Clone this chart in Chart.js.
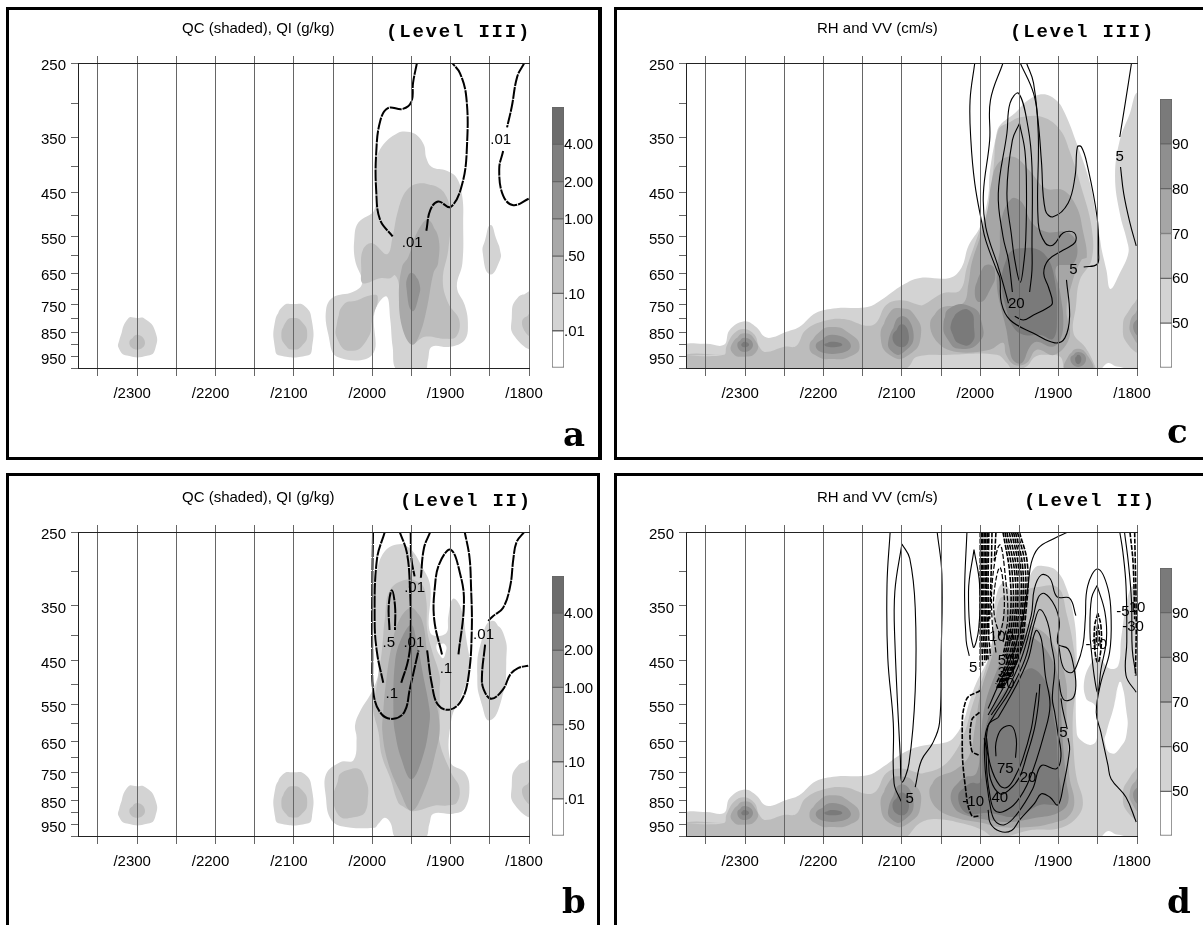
<!DOCTYPE html>
<html>
<head>
<meta charset="utf-8">
<title>QC QI RH VV</title>
<script src="https://cdn.jsdelivr.net/npm/chart.js@4/dist/chart.umd.js"></script>
<style>
html, body { margin: 0; padding: 0; background: #fff; width: 1203px; height: 925px; overflow: hidden; }
canvas { position: absolute; }
.frame { position: absolute; box-sizing: border-box; border: 0 solid #000; }
</style>
</head>
<body>
<div class="frame" style="left:6px;top:7px;width:596px;height:453px;border-width:3px 4px 3px 3px"></div>
<div class="frame" style="left:614px;top:7px;width:589px;height:453px;border-width:3px 0 3px 3px"></div>
<div class="frame" style="left:6px;top:473px;width:594px;height:452px;border-width:3px 3px 0 3px"></div>
<div class="frame" style="left:614px;top:473px;width:589px;height:452px;border-width:3px 0 0 3px"></div>
<script>
// axes: x is hours (reversed), y is pressure in hPa
const hourTicks = [18, 18.5, 19, 19.5, 20, 20.5, 21, 21.5, 22, 22.5, 23, 23.5];
const pressureTicks = [250, 300, 350, 400, 450, 500, 550, 600, 650, 700, 750, 800, 850, 900, 950, 1000];
const pressureLabels = [250, 350, 450, 550, 650, 750, 850, 950];
const qBarLabels = ['.01', '.10', '.50', '1.00', '2.00', '4.00'];
const rhBarLabels = ['50', '60', '70', '80', '90'];
const qColors = ['#ffffff', '#d3d3d3', '#bdbdbd', '#a9a9a9', '#929292', '#7f7f7f', '#6c6c6c'];
const rhColors = ['#ffffff', '#d3d3d3', '#bcbcbc', '#a6a6a6', '#8f8f8f', '#7a7a7a'];

// shaded blobs used by the QC panels
const q2300a = [[23.23,884],[23.12,800],[23.0,797],[22.9,800],[22.77,846],[22.77,917],[22.86,945],[23.13,945],[23.23,917]];
const q2300b = [[23.1,892],[23.0,860],[22.9,892],[23.0,920]];
const q2100a = [[21.24,808],[21.14,755],[21.01,748],[20.86,755],[20.77,808],[20.77,917],[20.83,945],[21.18,945],[21.24,917]];
const q2100b = [[21.16,858],[21.1,810],[21.01,797],[20.9,810],[20.83,858],[20.9,905],[21.01,920],[21.1,905]];
const q1800a = [[17.95,711],[18.15,728],[18.22,797],[18.18,868],[17.95,908]];
const q1800b = [[17.95,775],[18.09,815],[17.95,868]];

// panel a, QC level III
const aMain1 = [[19.52,342],[19.43,347],[19.34,363],[19.31,385],[19.24,401],[19.05,408],[18.92,422],[18.85,460],[18.84,517],[18.85,621],[18.92,692],[18.82,751],[18.78,815],[18.82,880],[19.01,908],[19.24,908],[19.29,965],[19.33,1010],[19.68,1010],[19.74,908],[19.77,804],[19.82,722],[19.97,775],[20.0,942],[20.45,950],[20.56,860],[20.59,768],[20.5,725],[20.25,708],[20.13,680],[20.22,612],[20.23,559],[20.18,517],[19.97,486],[19.95,394],[19.88,366],[19.68,344]];
const aSmall1 = [[18.49,522],[18.41,560],[18.37,585],[18.37,612],[18.5,653],[18.59,593],[18.56,559]];
const aMain2 = [[19.39,432],[19.16,440],[19.05,460],[19.0,499],[19.03,585],[19.1,670],[19.03,745],[18.89,804],[18.93,868],[19.07,876],[19.33,868],[19.49,896],[19.58,860],[19.65,768],[19.66,685],[19.71,656],[19.77,665],[19.9,665],[20.12,680],[20.14,641],[20.12,585],[20.0,567],[19.81,596],[19.74,550],[19.67,488],[19.56,446]];
const aLeft2 = [[20.45,815],[20.37,751],[20.19,735],[20.0,718],[19.93,725],[19.99,790],[20.07,880],[20.28,925],[20.44,880]];
const aCore3 = [[19.29,510],[19.16,550],[19.16,621],[19.22,650],[19.3,758],[19.39,854],[19.49,900],[19.61,840],[19.66,725],[19.62,632],[19.54,604],[19.43,541]];
const aCore4 = [[19.48,650],[19.4,680],[19.41,725],[19.49,772],[19.56,702],[19.54,656]];
const aLine1 = [[19.43,250],[19.48,274],[19.5,298],[19.61,308],[19.8,307],[19.9,326],[19.95,377],[19.95,446],[19.9,510],[19.74,550]];
const aLine2 = [[19.31,536],[19.26,488],[19.16,469],[19.0,481],[18.85,432],[18.79,360],[18.8,292],[18.88,262],[18.98,250]];
const aLine3 = [[18.06,250],[18.15,266],[18.22,305],[18.28,335]];
const aLine4 = [[18.33,373],[18.38,405],[18.33,457],[18.2,477],[18.0,463]];
const aLabels = [[18.36,354,'.01'],[19.49,567,'.01']];

// panel b, QC level II
const bMain1 = [[19.63,264],[19.5,271],[19.37,292],[19.26,320],[19.26,396],[19.06,397],[19.03,367],[18.97,339],[18.87,353],[18.8,407],[18.76,468],[18.86,527],[18.99,587],[19.0,714],[18.82,748],[18.76,800],[18.82,882],[18.97,903],[19.22,903],[19.27,945],[19.33,1010],[19.69,1010],[19.77,940],[19.84,920],[19.92,945],[19.97,963],[20.41,955],[20.54,920],[20.59,842],[20.59,755],[20.41,714],[20.24,708],[20.2,641],[20.22,604],[20.16,568],[19.99,512],[19.92,468],[19.97,372],[19.95,306],[19.84,273]];
const bBlob1 = [[18.48,375],[18.33,396],[18.29,453],[18.35,536],[18.5,590],[18.6,550],[18.66,481],[18.6,407]];
const bHole = [[19.18,418],[19.07,418],[19.07,437],[19.11,444]];
const bMain2 = [[19.54,310],[19.37,317],[19.31,342],[19.3,390],[19.24,428],[19.14,481],[19.14,516],[19.14,596],[19.14,653],[18.99,751],[18.89,800],[18.92,858],[19.05,870],[19.2,870],[19.39,888],[19.5,892],[19.6,875],[19.67,858],[19.77,768],[19.88,692],[19.92,624],[19.99,561],[19.97,536],[19.88,433],[19.84,372],[19.77,325]];
const bLeft2 = [[20.05,814],[20.09,896],[20.24,918],[20.41,916],[20.5,844],[20.44,779],[20.41,753],[20.29,738],[20.16,738],[20.09,772]];
const bCore3 = [[19.5,353],[19.37,372],[19.3,433],[19.24,500],[19.14,604],[19.2,692],[19.33,806],[19.5,892],[19.65,814],[19.8,714],[19.87,624],[19.86,568],[19.82,489],[19.75,418],[19.65,372]];
const bCore4 = [[19.5,382],[19.43,414],[19.35,481],[19.27,561],[19.27,596],[19.35,692],[19.5,772],[19.63,703],[19.71,624],[19.73,574],[19.71,453],[19.63,407]];
const bLine1 = [[19.84,250],[19.94,283],[19.97,372],[19.94,433],[19.86,497]];
const bLine2 = [[19.63,497],[19.54,447],[19.51,401],[19.52,320],[19.56,274],[19.65,250]];
const bLine3 = [[19.99,250],[20.0,320],[20.0,433],[19.98,527],[19.88,574],[19.73,586],[19.59,568],[19.52,511],[19.41,429]];
const bLine4 = [[19.51,250],[19.5,283],[19.46,306]];
const bLine5 = [[19.26,250],[19.34,269],[19.38,308]];
const bLine6 = [[19.78,391],[19.79,350],[19.75,326],[19.71,350],[19.71,391]];
const bLine7 = [[19.11,437],[19.21,372],[19.2,320],[19.14,288],[19.0,271],[18.88,302],[18.83,345],[18.9,437]];
const bLine8 = [[19.3,429],[19.24,500],[19.16,550],[19.01,562],[18.86,538],[18.77,481],[18.73,390],[18.74,320],[18.76,280],[18.82,250]];
const bLine9 = [[18.06,250],[18.16,262],[18.2,283],[18.24,320],[18.33,353],[18.46,367],[18.52,375]];
const bLine10 = [[18.56,418],[18.6,481],[18.58,512],[18.48,535],[18.33,512],[18.24,479],[18.14,465],[18.01,460]];
const bLabels = [[19.46,323,'.01'],[19.79,414,'.5'],[19.47,414,'.01'],[18.58,400,'.01'],[19.75,524,'.1'],[19.06,466,'.1']];

// shaded pieces shared by the RH panels
const bandLeft1 = [[23.8,905],[23.5,896],[23.27,900],[23.2,842],[23.01,809],[22.86,830],[22.75,868],[22.65,870],[22.5,851],[22.31,830],[22.1,779],[21.84,762],[21.44,758],[21.27,735],[20.99,686],[20.77,664]];
const bandLeft2 = [[23.8,945],[23.27,942],[23.24,908],[23.14,854],[23.01,838],[22.88,860],[22.82,908],[22.74,930],[22.5,908],[22.35,905],[22.23,842],[21.97,806],[21.71,802],[21.46,825],[21.33,815],[21.2,751],[21.01,735],[20.78,751],[20.73,751]];
const bandBottom = [[17.9,300],[17.9,995],[18.26,993],[18.37,978],[18.5,1010],[23.8,1010]];
const r2300c = [[23.16,892],[23.01,854],[22.86,888],[22.86,930],[23.01,950],[23.16,934]];
const r2300d = [[23.1,900],[23.01,872],[22.9,900],[23.01,930]];
const r2300e = [[23.05,900],[23.01,888],[22.95,900],[23.01,910]];
const r2200c = [[22.18,908],[22.07,854],[21.89,830],[21.67,854],[21.54,908],[21.67,950],[21.89,960],[22.07,950]];
const r2200d = [[22.1,905],[21.89,860],[21.65,905],[21.89,938]];
const r2200e = [[21.99,900],[21.89,888],[21.76,900],[21.89,910]];
const r2100c = [[21.27,872],[21.16,779],[21.01,762],[20.84,786],[20.76,868],[20.91,942],[21.12,950]];
const r2100d = [[21.17,880],[21.01,790],[20.85,860],[20.99,934],[21.12,930]];
const r2100e = [[21.12,872],[21.0,820],[20.91,872],[21.0,910]];
const r1800b = [[17.95,725],[18.09,765],[18.18,830],[18.1,905],[17.95,925]];
const r1800c = [[17.95,758],[18.09,815],[18.03,880],[17.95,895]];
const r1800d = [[17.95,786],[18.05,830],[17.95,868]];

// panel c, RH level III
const cMain1 = [...bandLeft1,[20.39,664],[20.24,634],[20.15,574],[20.0,525],[19.9,460],[19.88,412],[19.8,350],[19.75,332],[19.56,314],[19.39,296],[19.2,288],[19.03,296],[18.92,314],[18.77,360],[18.6,432],[18.51,517],[18.47,559],[18.45,585],[18.39,641],[18.34,698],[18.22,650],[18.11,593],[18.13,559],[18.22,495],[18.28,418],[18.22,355],[18.09,314],[18.0,286],...bandBottom];
const cMain2 = [...bandLeft2,[20.47,711],[20.26,703],[20.17,632],[20.11,593],[20.0,532],[19.9,488],[19.83,401],[19.77,339],[19.62,327],[19.49,320],[19.2,320],[18.98,339],[18.86,373],[18.71,440],[18.58,527],[18.58,612],[18.73,670],[18.78,758],[18.81,854],[18.66,910],[18.54,987],[18.54,1010],[18.9,1010],[18.98,950],[19.15,942],[19.3,950],[19.41,993],[19.58,1010],[19.66,978],[19.79,942],[20.39,942],[20.81,950],[20.91,993],[21.0,1010],[23.8,1010]];
const cMain3 = [[20.64,815],[20.51,762],[20.22,745],[20.15,680],[20.11,621],[20.0,550],[19.9,481],[19.86,432],[19.77,394],[19.58,383],[19.37,408],[19.17,442],[18.94,446],[18.77,481],[18.69,536],[18.64,604],[18.71,612],[18.83,680],[18.9,768],[18.86,868],[19.05,942],[19.28,920],[19.41,978],[19.56,987],[19.67,942],[19.71,892],[19.88,920],[20.3,930],[20.54,892]];
const cMain4 = [[19.75,585],[19.73,510],[19.6,463],[19.47,471],[19.34,517],[19.15,539],[18.9,539],[18.77,567],[18.81,621],[19.03,632],[18.98,711],[18.94,804],[18.98,880],[19.09,908],[19.28,888],[19.37,910],[19.47,978],[19.58,965],[19.63,908],[19.67,836],[19.75,745],[19.79,680],[19.77,612]];
const cMain5 = [[19.58,585],[19.32,580],[19.15,604],[19.05,670],[19.02,790],[19.07,876],[19.24,860],[19.45,860],[19.58,830],[19.67,762],[19.73,677],[19.67,612]];
const c2000d = [[20.47,820],[20.39,762],[20.11,758],[19.98,815],[20.01,888],[20.26,916],[20.41,880]];
const c2000e = [[20.37,815],[20.28,775],[20.13,772],[20.08,830],[20.11,892],[20.26,896],[20.35,860]];
const cLobe4 = [[20.07,711],[20.0,650],[19.9,625],[19.81,647],[19.88,703],[20.0,741]];
const c1870c = [[18.88,950],[18.76,916],[18.62,950],[18.58,1010],[18.91,1010]];
const c1870d = [[18.85,960],[18.75,930],[18.65,960],[18.75,995]];
const c1870e = [[18.79,960],[18.75,942],[18.71,960],[18.75,983]];
const cLine1 = [[20.07,250],[20.13,296],[20.12,355],[20.07,432],[19.98,517],[19.93,560],[19.79,641],[19.75,664],[19.73,745],[19.62,804],[19.32,854],[19.05,892],[18.92,872],[18.86,790],[18.9,670]];
const cLine2 = [[18.68,632],[18.51,624],[18.49,593],[18.51,503],[18.64,394],[18.71,366],[18.76,366],[18.79,418],[18.88,473],[19.07,503],[19.17,488],[19.22,390],[19.26,328],[19.32,287],[19.49,250]];
const cLine3 = [[19.71,250],[19.87,296],[19.88,355],[19.96,452],[19.93,527],[19.77,632],[19.71,680],[19.64,745]];
const cLine4 = [[19.56,790],[19.45,804],[19.32,786],[19.15,762],[19.08,745],[19.13,692],[19.19,650],[19.13,612],[18.94,585],[18.79,565],[18.8,541],[18.94,541],[19.07,572],[19.17,567],[19.26,517],[19.26,344],[19.32,274],[19.41,250]];
const cLine5 = [[19.59,708],[19.64,612],[19.71,550],[19.77,452],[19.66,344],[19.62,300],[19.51,287],[19.39,335],[19.34,401],[19.34,574],[19.34,641],[19.37,708]];
const cLine6 = [[19.5,329],[19.59,355],[19.66,452],[19.6,550],[19.56,612],[19.49,677],[19.44,612],[19.42,559],[19.41,452],[19.43,373],[19.5,329]];
const cLine7 = [[18.07,250],[18.15,300],[18.22,350]];
const cLine8 = [[18.21,401],[18.17,452],[18.09,517],[18.01,574]];
const cLabels = [[18.22,383,'5'],[18.81,641,'5'],[19.54,748,'20']];

// panel d, RH level II
const dMain1 = [...bandLeft1,[20.43,652],[20.33,636],[20.22,596],[20.14,543],[20.05,497],[19.9,448],[19.86,433],[19.82,350],[19.71,315],[19.54,335],[19.41,315],[19.3,294],[19.2,292],[19.03,298],[18.9,323],[18.8,373],[18.77,433],[18.78,500],[18.77,624],[18.73,643],[18.6,660],[18.52,648],[18.5,585],[18.54,550],[18.65,534],[18.67,489],[18.56,447],[18.5,440],[18.35,466],[18.24,460],[18.2,403],[18.09,325],[17.97,314],...bandBottom];
const dHole = [[18.23,497],[18.29,550],[18.39,624],[18.41,652],[18.33,686],[18.22,670],[18.13,624],[18.14,559],[18.2,497]];
const dMain2 = [...bandLeft2,[20.5,731],[20.33,686],[20.2,624],[20.1,550],[19.92,460],[19.82,390],[19.75,339],[19.63,335],[19.46,327],[19.31,322],[19.01,322],[18.9,362],[18.8,433],[18.78,500],[18.82,585],[18.81,670],[18.77,768],[18.69,858],[18.77,920],[18.99,965],[19.37,974],[19.8,1010],[19.97,974],[20.22,945],[20.56,925],[20.77,942],[21.0,1010],[23.8,1010]];
const dMain3 = [[20.65,815],[20.56,768],[20.31,738],[20.14,692],[20.07,612],[19.99,516],[19.86,446],[19.75,390],[19.65,355],[19.5,373],[19.16,399],[18.99,446],[18.9,500],[18.9,568],[18.88,670],[18.86,768],[18.8,858],[18.88,916],[19.07,942],[19.37,960],[19.75,960],[19.97,942],[20.31,920],[20.56,880]];
const dMain4 = [[20.37,820],[20.22,768],[20.05,751],[20.0,652],[19.94,550],[19.8,475],[19.67,433],[19.5,401],[19.29,408],[19.09,446],[18.99,500],[18.97,568],[18.94,670],[18.9,782],[18.88,858],[19.01,900],[19.29,920],[19.63,938],[19.9,930],[20.18,910],[20.33,880]];
const dMain5 = [[20.28,830],[20.13,786],[20.0,782],[19.97,670],[19.9,585],[19.77,536],[19.54,488],[19.33,466],[19.11,516],[19.07,574],[19.03,624],[19.01,725],[18.99,860],[19.24,868],[19.54,916],[19.88,900],[20.18,900]];
const dLine1 = [[21.15,250],[21.19,318],[21.18,444],[21.11,597],[21.1,786],[21.01,854]];
const dLine2 = [[21.0,264],[21.09,328],[21.09,410],[21.02,700],[21.0,782],[20.91,718],[20.83,515],[20.83,353],[20.9,282],[21.0,264]];
const dLine3 = [[20.55,250],[20.49,303],[20.5,444],[20.52,597],[20.61,656],[20.75,708],[20.83,800]];
const dLine4 = [[20.17,250],[20.2,328],[20.18,410],[20.14,440]];
const dLine5 = [[20.08,271],[20.15,328],[20.09,422],[20.02,389],[20.01,316],[20.08,271]];
const dLine6 = [[19.9,888],[19.87,945],[19.75,979],[19.6,975],[19.5,930],[19.31,863],[19.22,825],[19.11,838],[19.01,868],[18.94,795],[18.86,675],[18.88,640]];
const dLine7 = [[18.89,614],[18.95,560],[18.97,534]];
const dLine8 = [[19.89,844],[19.82,930],[19.69,950],[19.54,908],[19.33,806],[19.22,725],[19.03,736],[18.97,695],[19.01,624],[19.05,569],[19.08,534],[19.05,460],[19.09,419],[19.14,378],[19.24,356],[19.31,378],[19.43,447],[19.63,519],[19.82,576],[19.93,624],[19.94,725],[19.89,844]];
const dLine9 = [[19.77,582],[19.56,510],[19.39,447],[19.29,392],[19.22,408],[19.17,481],[19.11,550],[19.18,624],[19.37,771],[19.54,857],[19.71,895],[19.82,888],[19.88,825],[19.92,725],[19.9,605],[19.77,582]];
const dLine10 = [[19.95,640],[19.9,695],[19.87,771],[19.75,825],[19.63,810],[19.5,765],[19.41,695],[19.31,614],[19.26,550],[19.24,500]];
const dLine11 = [[19.92,640],[19.87,725],[19.75,795],[19.65,800],[19.54,754],[19.46,705],[19.35,614],[19.31,560],[19.28,520]];
const dLine12 = [[19.8,695],[19.8,654],[19.73,614],[19.6,606],[19.54,643],[19.55,700]];
const dLine13 = [[19.9,576],[19.71,510],[19.52,447],[19.35,366],[19.31,324],[19.22,304],[19.11,309],[19.02,336],[18.86,338],[18.78,366]];
const dLine14 = [[19.86,576],[19.67,519],[19.48,447],[19.33,372],[19.26,337],[19.18,331],[19.05,350],[18.99,378],[19.01,416],[18.88,426],[18.81,460],[18.78,503],[18.82,534],[18.94,536],[19.0,489]];
const dLine15 = [[18.88,250],[19.07,258],[19.26,269],[19.35,288],[19.39,320],[19.48,384],[19.63,454],[19.77,503],[19.9,559]];
const dLine16 = [[19.0,419],[18.94,464],[18.84,475],[18.77,460],[18.69,419],[18.66,372],[18.63,320],[18.5,296],[18.37,324],[18.33,372],[18.35,433],[18.46,496],[18.52,569],[18.46,624],[18.37,725],[18.33,771],[18.14,838],[18.01,938]];
const dLine17 = [[18.51,319],[18.58,338],[18.6,394],[18.58,433],[18.54,489],[18.5,519],[18.46,468],[18.39,408],[18.41,360],[18.51,319]];
const dLine18 = [[18.22,250],[18.18,274],[18.14,320],[18.13,412],[18.14,481],[18.01,519]];
const dLine19 = [[18.16,250],[18.11,288],[18.07,343],[18.06,428],[18.01,481]];
const dDash1 = [[20.0,250],[20.0,372],[20.0,468]];
const dDash2 = [[19.97,250],[19.97,372],[19.94,453]];
const dDash3 = [[19.93,250],[19.93,372],[19.9,447]];
const dDash4 = [[19.89,250],[19.9,320],[19.89,401]];
const dDash5 = [[19.85,250],[19.86,296],[19.88,372]];
const dDash6 = [[19.8,250],[19.82,285]];
const dDash7 = [[19.5,250],[19.4,288],[19.41,350],[19.52,446],[19.73,510]];
const dDash8 = [[19.55,250],[19.46,292],[19.46,355],[19.56,446],[19.76,510]];
const dDash9 = [[19.6,250],[19.51,296],[19.51,361],[19.62,446],[19.79,509]];
const dDash10 = [[19.66,250],[19.56,302],[19.56,366],[19.67,446]];
const dDash11 = [[19.71,250],[19.62,306],[19.62,372],[19.71,440]];
const dDash12 = [[19.8,433],[19.85,372],[19.84,306],[19.75,265],[19.68,306],[19.65,372],[19.71,414]];
const dDash13 = [[19.75,401],[19.82,366],[19.82,326],[19.75,294],[19.7,326],[19.7,366],[19.75,401]];
const dDash14 = [[20.0,515],[20.18,538],[20.23,647],[20.19,800],[20.11,910],[19.99,912]];
const dDash15 = [[20.01,569],[20.11,590],[20.11,677],[20.02,692]];
const dDash16 = [[18.5,362],[18.54,384],[18.54,426],[18.5,454],[18.46,426],[18.46,384],[18.5,362]];
const dDash17 = [[18.5,381],[18.52,403],[18.5,420],[18.48,403],[18.5,381]];
const dDash18 = [[18.09,250],[18.05,288],[18.03,372]];
const dDash19 = [[18.03,250],[18.01,372],[18.02,481]];
// extra dashed lines where the field packs together
const dDash20 = [[19.985,250],[19.985,372],[19.97,460]];
const dDash21 = [[19.95,250],[19.95,372],[19.92,450]];
const dDash22 = [[19.91,250],[19.915,360],[19.87,440]];
const dDash23 = [[19.525,250],[19.43,290],[19.435,352],[19.54,446],[19.745,510]];
const dDash24 = [[19.575,250],[19.485,294],[19.485,358],[19.59,446],[19.775,510]];
const dDash25 = [[19.63,250],[19.535,299],[19.535,363],[19.645,446],[19.8,500]];
const dDash26 = [[19.685,250],[19.59,304],[19.59,369],[19.69,443]];
const dLabels = [[20.09,464,'5'],[20.9,845,'5'],[19.73,403,'100'],[19.67,449,'50'],[19.67,475,'30'],[19.67,499,'10'],[19.68,736,'75'],[19.75,841,'40'],[19.39,767,'20'],[18.94,625,'5'],[20.09,854,'-10'],[18.52,419,'-10'],[18.18,360,'-5'],[18.0,353,'10'],[18.05,385,'-30']];

// wrap past the first point so the tension curve stays round at the seam
const closed = pts => [...pts, pts[0], pts[1]];

function fillSet(polys, color) {
    return polys.map(pts => ({
        data: closed(pts).map(([x, y]) => ({ x, y })),
        showLine: true,
        pointRadius: 0,
        borderWidth: 0,
        fill: 'shape',
        backgroundColor: color,
        tension: pts.length <= 9 ? 0.55 : 0.4
    }));
}

function lineSet(lines, width, dash) {
    return lines.map(pts => ({
        data: pts.map(([x, y]) => ({ x, y })),
        showLine: true,
        pointRadius: 0,
        borderWidth: width,
        borderColor: '#000',
        borderDash: dash,
        fill: false,
        tension: 0.4
    }));
}

function textPlugin(cfg) {
    return {
        id: 'panelText',
        afterDraw(chart) {
            const ctx = chart.ctx;
            ctx.save();
            ctx.fillStyle = '#000';
            ctx.textBaseline = 'middle';
            ctx.textAlign = 'center';
            ctx.font = '15px "Liberation Sans"';
            cfg.labels.forEach(([h, p, txt]) => {
                ctx.fillText(txt, chart.scales.x.getPixelForValue(h), chart.scales.y.getPixelForValue(p));
            });
            ctx.textAlign = 'left';
            ctx.textBaseline = 'alphabetic';
            ctx.fillText(cfg.title, cfg.titleX, 33);
            ctx.font = 'bold 19px "Liberation Mono"';
            ctx.letterSpacing = '1.8px';
            ctx.fillText(cfg.level, cfg.levelX, 37);
            ctx.letterSpacing = '0px';
            ctx.font = 'bold 34px "DejaVu Serif"';
            ctx.fillText(cfg.letter, cfg.letterX, cfg.letterY);
            ctx.restore();
        }
    };
}

function drawPanel(cfg) {
    const canvas = document.createElement('canvas');
    canvas.width = 600;
    canvas.height = cfg.height;
    canvas.style.left = cfg.left + 'px';
    canvas.style.top = cfg.top + 'px';
    document.body.appendChild(canvas);

    const xOpts = {
        type: 'linear',
        reverse: true,
        min: 18,
        max: 23.755,
        afterBuildTicks: s => { s.ticks = hourTicks.map(v => ({ value: v })); }
    };

    new Chart(canvas, {
        type: 'scatter',
        data: { datasets: cfg.datasets },
        options: {
            responsive: false,
            animation: false,
            events: [],
            layout: { padding: { left: 0, top: 63, right: 71, bottom: cfg.height - 63 - cfg.plotHeight - 50 } },
            plugins: { legend: { display: false }, tooltip: { enabled: false } },
            scales: {
                x: {
                    ...xOpts,
                    position: 'bottom',
                    afterFit: s => { s.height = 50; },
                    border: { color: '#222', z: 2 },
                    grid: { color: '#666', tickColor: '#666', tickLength: 8, z: 1 },
                    ticks: {
                        autoSkip: false,
                        maxRotation: 0,
                        labelOffset: -5,
                        padding: 9,
                        color: '#000',
                        font: { family: 'Liberation Sans', size: 15 },
                        callback: v => Number.isInteger(v) ? '/' + v * 100 : ''
                    }
                },
                x2: {
                    ...xOpts,
                    position: 'top',
                    afterFit: s => { s.height = 0; },
                    border: { color: '#222', z: 2 },
                    grid: { drawOnChartArea: false, color: '#666', tickColor: '#666', tickLength: 7 },
                    ticks: { display: false }
                },
                y: {
                    type: 'logarithmic',
                    reverse: true,
                    min: 250,
                    max: 1000,
                    afterFit: s => { s.width = 78; },
                    afterBuildTicks: s => { s.ticks = pressureTicks.map(v => ({ value: v })); },
                    border: { color: '#222', z: 2 },
                    grid: { drawOnChartArea: false, color: '#666', tickColor: '#666', tickLength: 7 },
                    ticks: {
                        autoSkip: false,
                        padding: 5,
                        labelOffset: 3,
                        color: '#000',
                        font: { family: 'Liberation Sans', size: 15 },
                        callback: v => pressureLabels.includes(v) ? String(v) : ''
                    }
                }
            }
        },
        plugins: [textPlugin(cfg)]
    });
}

function drawBar(cfg) {
    const canvas = document.createElement('canvas');
    canvas.width = 60;
    canvas.height = cfg.bottom - cfg.barTop + 20;
    canvas.style.left = cfg.left + 'px';
    canvas.style.top = (cfg.barTop - 10) + 'px';
    document.body.appendChild(canvas);

    new Chart(canvas, {
        type: 'bar',
        data: {
            labels: [''],
            datasets: cfg.colors.map(c => ({
                data: [1],
                backgroundColor: c,
                borderColor: '#666',
                borderWidth: 1,
                borderSkipped: false,
                barPercentage: 1,
                categoryPercentage: 1
            }))
        },
        options: {
            responsive: false,
            animation: false,
            events: [],
            layout: { padding: { left: 0, top: 10, right: 0, bottom: 10 } },
            plugins: { legend: { display: false }, tooltip: { enabled: false } },
            scales: {
                x: { display: false, stacked: true },
                y: {
                    stacked: true,
                    position: 'right',
                    min: 0,
                    max: cfg.colors.length,
                    afterFit: s => { s.width = 48; },
                    border: { display: false },
                    grid: { drawOnChartArea: false, drawTicks: false },
                    ticks: {
                        stepSize: 1,
                        autoSkip: false,
                        padding: 0,
                        labelOffset: 1,
                        color: '#000',
                        font: { family: 'Liberation Sans', size: 15 },
                        callback: v => cfg.labels[v - 1] || ''
                    }
                }
            }
        }
    });
}

const aFills = [fillSet([aMain1, aSmall1, q2300a, q2100a, q1800a], qColors[1]), fillSet([aMain2, aLeft2, q2300b, q2100b, q1800b], qColors[2]), fillSet([aCore3], qColors[3]), fillSet([aCore4], qColors[4])];
const bFills = [fillSet([bMain1, bBlob1, q2300a, q2100a, q1800a], qColors[1]), fillSet([bHole], '#ffffff'), fillSet([bMain2, bLeft2, q2300b, q2100b, q1800b], qColors[2]), fillSet([bCore3], qColors[3]), fillSet([bCore4], qColors[4])];
const rBlobs3 = [r2300c, r2200c, r2100c, r1800c];
const rBlobs4 = [r2300d, r2200d, r2100d, r1800d];
const rBlobs5 = [r2300e, r2200e, r2100e];
const cFills = [fillSet([cMain1], rhColors[1]), fillSet([cMain2, r1800b], rhColors[2]), fillSet([cMain3, ...rBlobs3, c1870c], rhColors[3]), fillSet([cMain4, cLobe4, c2000d, ...rBlobs4, c1870d], rhColors[4]), fillSet([cMain5, c2000e, ...rBlobs5, c1870e], rhColors[5])];
const dFills = [fillSet([dMain1], rhColors[1]), fillSet([dHole], '#ffffff'), fillSet([dMain2, r1800b], rhColors[2]), fillSet([dMain3, ...rBlobs3], rhColors[3]), fillSet([dMain4, ...rBlobs4], rhColors[4]), fillSet([dMain5, ...rBlobs5], rhColors[5])];

// first dataset is painted last, so the lines go first and the darkest fills next
const stack = (lines, fills) => [...lines, ...fills.slice().reverse().flat()];

drawPanel({
    left: 0, top: 0, height: 460, plotHeight: 305,
    title: 'QC (shaded), QI (g/kg)', titleX: 182,
    level: '(Level III)', levelX: 386,
    letter: 'a', letterX: 563, letterY: 446,
    labels: aLabels,
    datasets: stack(lineSet([aLine1, aLine2, aLine3, aLine4], 2, [12, 1]), aFills)
});
drawPanel({
    left: 0, top: 469, height: 456, plotHeight: 304,
    title: 'QC (shaded), QI (g/kg)', titleX: 182,
    level: '(Level II)', levelX: 400,
    letter: 'b', letterX: 562, letterY: 444,
    labels: bLabels,
    datasets: stack(lineSet([bLine1, bLine2, bLine3, bLine4, bLine5, bLine6, bLine7, bLine8, bLine9, bLine10], 2, [12, 1]), bFills)
});
drawPanel({
    left: 608, top: 0, height: 460, plotHeight: 305,
    title: 'RH and VV (cm/s)', titleX: 209,
    level: '(Level III)', levelX: 402,
    letter: 'c', letterX: 559, letterY: 443,
    labels: cLabels,
    datasets: stack(lineSet([cLine1, cLine2, cLine3, cLine4, cLine5, cLine6, cLine7, cLine8], 1.1, []), cFills)
});
drawPanel({
    left: 608, top: 469, height: 456, plotHeight: 304,
    title: 'RH and VV (cm/s)', titleX: 209,
    level: '(Level II)', levelX: 416,
    letter: 'd', letterX: 559, letterY: 444,
    labels: dLabels,
    datasets: stack([
        ...lineSet([dLine1, dLine2, dLine3, dLine4, dLine5, dLine6, dLine7, dLine8, dLine9, dLine10, dLine11, dLine12, dLine13, dLine14, dLine15, dLine16, dLine17, dLine18, dLine19], 1.1, []),
        ...lineSet([dDash1, dDash2, dDash3, dDash4, dDash5, dDash6, dDash7, dDash8, dDash9, dDash10, dDash11, dDash14, dDash15, dDash16, dDash17, dDash18, dDash19, dDash20, dDash21, dDash22, dDash23, dDash24, dDash25, dDash26], 1.6, [5, 1.5]),
        ...lineSet([dDash12, dDash13], 1.2, [5, 2])
    ], dFills)
});

drawBar({ left: 552, barTop: 107, bottom: 368, colors: qColors, labels: qBarLabels });
drawBar({ left: 552, barTop: 576, bottom: 836, colors: qColors, labels: qBarLabels });
drawBar({ left: 1160, barTop: 99, bottom: 368, colors: rhColors, labels: rhBarLabels });
drawBar({ left: 1160, barTop: 568, bottom: 836, colors: rhColors, labels: rhBarLabels });
</script>
</body>
</html>
